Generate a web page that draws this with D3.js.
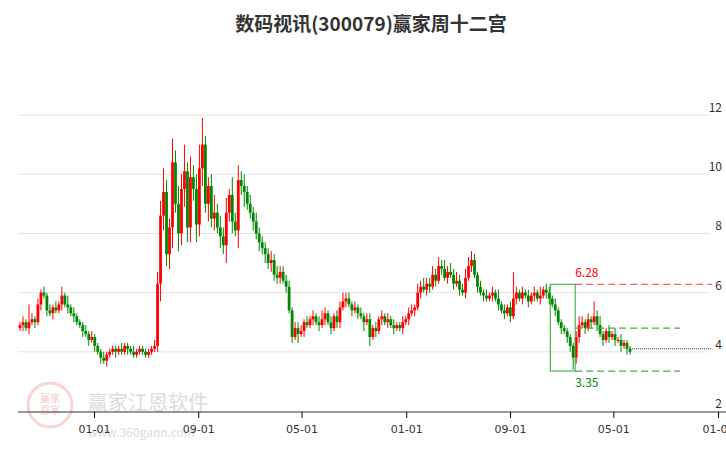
<!DOCTYPE html>
<html><head><meta charset="utf-8">
<script src="https://cdn.jsdelivr.net/npm/d3@7"></script>
<style>body{margin:0;background:#fff}svg{font-family:"Noto Sans CJK SC","DejaVu Sans",sans-serif}</style>
</head><body><svg width="726" height="450"></svg>
<script>
// weekly closes (open = previous close)
const closes = [
  4.9,5.0,4.8,5.0,5.1,5.0,5.6,6.0,5.9,5.4,
  5.3,5.5,5.4,5.6,5.9,5.6,5.5,5.3,5.2,5.0,
  4.9,4.7,4.6,4.4,4.5,4.2,4.0,3.8,3.7,3.9,
  4.0,4.1,4.0,4.1,4.0,4.2,4.1,4.0,3.9,4.0,
  4.1,4.0,3.9,4.0,4.1,4.2,6.3,
  8.6,9.4,7.3,8.2,10.4,9.0,8.0,9.5,10.1,8.2,
  9.9,9.5,8.3,10.2,11.0,9.0,9.6,8.5,8.7,8.2,
  7.9,7.6,8.7,9.3,8.4,8.1,9.8,9.6,9.4,9.0,
  8.7,8.4,8.0,7.7,7.5,7.3,7.0,7.1,6.6,6.5,
  6.7,6.4,6.2,5.4,4.5,4.8,4.6,4.7,5.0,4.9,
  5.1,5.2,5.0,4.9,5.1,5.3,5.0,4.8,5.2,5.0,
  5.5,5.7,5.8,5.6,5.4,5.5,5.3,5.2,5.0,5.1,
  4.5,4.8,4.7,5.1,5.2,5.0,5.1,4.9,4.8,4.9,
  4.8,5.0,5.1,5.3,5.4,5.5,6.0,6.2,6.1,6.3,
  6.2,6.6,6.4,6.9,6.8,6.5,6.7,6.6,6.3,6.4,
  6.1,6.0,6.5,6.9,7.1,6.6,6.2,6.0,5.9,5.8,
  5.9,6.0,5.8,5.6,5.4,5.3,5.5,5.2,5.8,6.0,
  5.8,6.0,5.9,5.7,5.9,6.0,5.8,5.9,6.1,6.0,
  5.8,5.6,5.4,5.0,4.8,4.7,4.5,4.2,3.8,4.5,
  4.9,5.0,4.8,5.1,5.0,5.2,4.9,4.6,4.4,4.7,
  4.5,4.6,4.4,4.4,4.2,4.3,4.1,4.0
];
const firstOpen = 4.8;
// upper / lower wick lengths in tenths
const upWicks = "1216212121"+"2121313121"+"1121211121"+"1111211121"+"1111124"+"5843846593"+"7458933463"+"4352635342"+"3232222323"+"2222122212"+"1212321212"+"2322121212"+"2121212121"+"1212213232"+"2323232323"+"2233321212"+"1213121292"+"1212121312"+"2121111112"+"3212152311"+"21212111";
const dnWicks = "1212121212"+"1211212121"+"1212121212"+"1121112111"+"1111112"+"6545736465"+"5464636342"+"4363426352"+"2323232322"+"2121213121"+"1212121212"+"2121212131"+"3121212121"+"1212121212"+"2121212121"+"2121212121"+"1212121212"+"1212121212"+"2121212242"+"2121212121"+"21212121";
const yTicks = [2,4,6,8,10,12];
const xTickDates = ["2020-01-01","2020-09-01","2021-05-01","2022-01-01","2022-09-01","2023-05-01","2024-01-01"];
const boxStart = 177, boxEnd = 185;
const boxHigh = 6.28, boxLow = 3.35, midLevel = 4.8;

const svg = d3.select("svg");
const y = d3.scaleLinear().domain([2, 12]).range([411, 115]);
const x = d3.scaleLinear().domain([0, closes.length - 1]).range([20, 630]);
const t = d3.scaleTime().domain([new Date("2020-01-01"), new Date("2024-01-01")]).range([94, 718]);

svg.append("text").attr("x", 371).attr("y", 31).attr("text-anchor", "middle")
  .attr("font-size", 19).attr("font-weight", "bold").attr("fill", "#333").text("数码视讯(300079)赢家周十二宫");

// watermark
const wm = svg.append("g").attr("opacity", 0.35);
wm.append("circle").attr("cx", 50).attr("cy", 405).attr("r", 22).attr("fill", "none").attr("stroke", "#e88").attr("stroke-width", 3);
wm.append("text").attr("x", 50).attr("y", 402).attr("text-anchor", "middle").attr("font-size", 10).attr("fill", "#d66").text("赢家");
wm.append("text").attr("x", 50).attr("y", 414).attr("text-anchor", "middle").attr("font-size", 10).attr("fill", "#d66").text("恩家");
wm.append("text").attr("x", 88).attr("y", 410).attr("font-size", 20).attr("fill", "#999").text("赢家江恩软件");
wm.append("text").attr("x", 88).attr("y", 437).attr("font-size", 12).attr("fill", "#999").text("www.360gann.com");

svg.append("g").selectAll("line").data(yTicks.slice(1)).join("line")
  .attr("x1", 18).attr("x2", 710).attr("y1", d => y(d)).attr("y2", d => y(d))
  .attr("stroke", "#e4e4e4");
svg.append("g").selectAll("text").data(yTicks).join("text")
  .attr("x", 722).attr("y", d => y(d) - 3).attr("text-anchor", "end")
  .attr("font-size", 12).attr("fill", "#333").text(d => d);

const xAxis = svg.append("g").attr("transform", "translate(0,412)")
  .call(d3.axisBottom(t).tickValues(xTickDates.map(d => new Date(d))).tickFormat(d3.timeFormat("%m-%d")).tickSize(6));
xAxis.select(".domain").attr("d", "M18,0H726").attr("stroke", "#333");
xAxis.selectAll("text").attr("font-size", 11).attr("fill", "#333").attr("dy", "1.1em").attr("font-family", "DejaVu Sans, sans-serif");

const candles = closes.map((c, i) => {
  const o = i === 0 ? firstOpen : closes[i - 1];
  return {i, o, c, h: Math.max(o, c) + (+upWicks[i]) / 10, l: Math.min(o, c) - (+dnWicks[i]) / 10};
});
const g = svg.append("g");
g.selectAll("line").data(candles).join("line")
  .attr("x1", d => x(d.i)).attr("x2", d => x(d.i)).attr("y1", d => y(d.h)).attr("y2", d => y(d.l))
  .attr("stroke", d => d.c >= d.o ? "#f00" : "#080").attr("stroke-width", 1);
g.selectAll("rect").data(candles).join("rect")
  .attr("x", d => x(d.i) - 1.4).attr("width", 2.8)
  .attr("y", d => y(Math.max(d.o, d.c))).attr("height", d => Math.max(1, Math.abs(y(d.o) - y(d.c))))
  .attr("fill", d => d.c >= d.o ? "#f00" : "#080");

// box and levels
const bx0 = x(boxStart) + 1, bx1 = x(boxEnd) + 2;
svg.append("rect").attr("x", bx0).attr("y", y(boxHigh)).attr("width", bx1 - bx0).attr("height", y(boxLow) - y(boxHigh))
  .attr("fill", "none").attr("stroke", "#2a2").attr("stroke-width", 1);
svg.append("line").attr("x1", bx1).attr("x2", 712).attr("y1", y(boxHigh)).attr("y2", y(boxHigh))
  .attr("stroke", "#f33").attr("stroke-dasharray", "7,4");
[boxLow, midLevel].forEach(v => svg.append("line").attr("x1", bx1).attr("x2", 680).attr("y1", y(v)).attr("y2", y(v))
  .attr("stroke", "#4a4").attr("stroke-width", 1.2).attr("stroke-dasharray", "7,4"));
const last = closes[closes.length - 1];
svg.append("line").attr("x1", x(closes.length - 1)).attr("x2", 712).attr("y1", y(last + 0.1)).attr("y2", y(last + 0.1))
  .attr("stroke", "#333").attr("stroke-dasharray", "1,1");
svg.append("text").attr("x", bx1).attr("y", y(boxHigh) - 7).attr("font-size", 12).attr("fill", "#f00").text(boxHigh.toFixed(2));
svg.append("text").attr("x", bx1).attr("y", y(boxLow) + 16).attr("font-size", 12).attr("fill", "#080").text(boxLow.toFixed(2));
</script></body></html>
